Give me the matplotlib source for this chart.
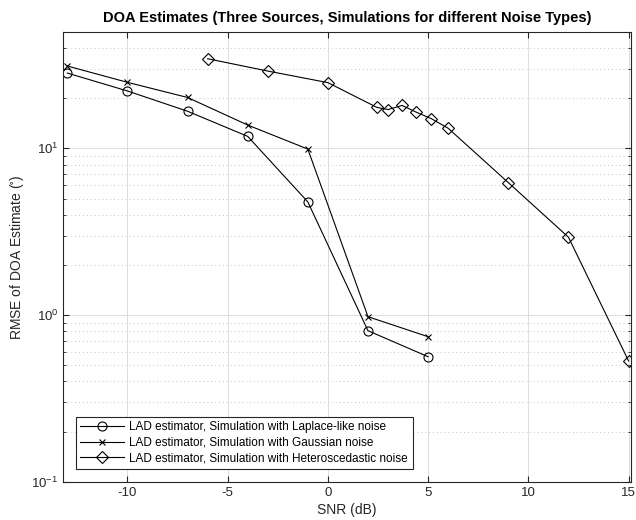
import matplotlib
matplotlib.use('Agg')
import matplotlib.pyplot as plt
from matplotlib.ticker import LogLocator, NullFormatter

plt.rcParams['font.family'] = ['Liberation Sans', 'DejaVu Sans']
plt.rcParams['mathtext.default'] = 'regular'
plt.rcParams['axes.unicode_minus'] = False

# Laplace-like noise
snr_lap = [-13, -10, -7, -4, -1, 2, 5]
rmse_lap = [28.3, 22.1, 16.7, 11.8, 4.77, 0.805, 0.562]

# Gaussian noise
snr_gau = [-13, -10, -7, -4, -1, 2, 5]
rmse_gau = [31.2, 24.9, 20.2, 13.8, 9.9, 0.977, 0.741]

# Heteroscedastic noise
snr_het = [-6, -3, 0, 2.45, 3, 3.7, 4.4, 5.15, 6, 9, 12, 15]
rmse_het = [34.5, 29.1, 24.8, 17.6, 17.1, 18.1, 16.5, 15.1, 13.2, 6.23, 2.93, 0.53]

labels = ['LAD estimator, Simulation with Laplace-like noise',
          'LAD estimator, Simulation with Gaussian noise',
          'LAD estimator, Simulation with Heteroscedastic noise']

fig = plt.figure(figsize=(6.36, 5.2), dpi=100)
ax = fig.add_axes([0.0995, 0.0737, 0.892, 0.865])

ax.semilogy(snr_lap, rmse_lap, 'k-o', lw=0.8, ms=6.5, mfc='none', mew=0.8, label=labels[0])
ax.semilogy(snr_gau, rmse_gau, 'k-x', lw=0.8, ms=4.5, mew=0.8, label=labels[1])
ax.semilogy(snr_het, rmse_het, 'k-D', lw=0.8, ms=6, mfc='none', mew=0.8, label=labels[2])

ax.set_xlim(-13.2, 15.1)
ax.set_ylim(0.1, 50)
ax.set_xticks([-10, -5, 0, 5, 10, 15])
ax.yaxis.set_minor_locator(LogLocator(base=10, subs=range(2, 10)))
ax.yaxis.set_minor_formatter(NullFormatter())

ax.grid(True, which='major', color='#dcdcdc', lw=0.7, ls='-')
ax.grid(True, which='minor', axis='y', color='#c8c8c8', lw=0.7, ls=(0, (1, 3)))
ax.set_axisbelow(True)

ax.tick_params(which='both', direction='in', top=True, right=True, labelsize=9.5,
               color='#262626', labelcolor='#262626')
ax.tick_params(which='major', length=4)
ax.tick_params(which='minor', length=2.5)
for s in ax.spines.values():
    s.set_color('#262626')
    s.set_linewidth(0.8)

ax.set_xlabel('SNR (dB)', fontsize=10, color='#262626', labelpad=3)
ax.set_ylabel(r'RMSE of DOA Estimate ($^{\circ}$)', fontsize=10, color='#262626')
ax.set_title('DOA Estimates (Three Sources, Simulations for different Noise Types)',
             fontsize=10.5, fontweight='bold', pad=7)

leg = ax.legend(loc='lower left', bbox_to_anchor=(0.022, 0.028), fontsize=8.5,
                fancybox=False, framealpha=1, edgecolor='#262626',
                handlelength=3.7, handletextpad=0.45, borderpad=0.4,
                borderaxespad=0, labelspacing=0.3)
leg.get_frame().set_linewidth(0.8)

fig.savefig('out.png', dpi=100)
